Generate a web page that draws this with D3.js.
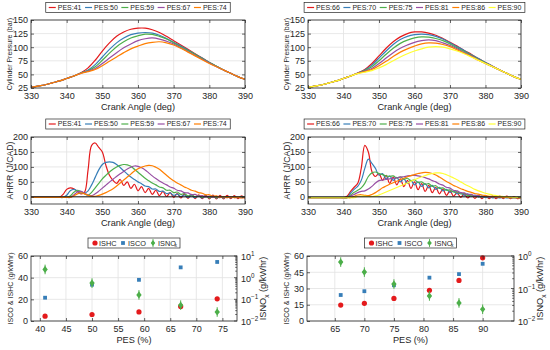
<!DOCTYPE html>
<html>
<head>
<meta charset="utf-8">
<script src="https://cdn.jsdelivr.net/npm/d3@7"></script>
<style>
body { margin: 0; background: #fff; }
svg { font-family: "Liberation Sans", Arial, Helvetica, sans-serif; }
</style>
</head>
<body>
<script>
// ---- data ----
var anglesP = [330,332,334,336,338,340,342,344,346,348,350,352,354,356,358,360,362,364,366,368,370,372,374,376,378,380,382,384,386,388,390];
var anglesA = [330,331,332,333,334,335,336,337,338,339,340,341,342,343,344,345,346,347,348,349,350,351,352,353,354,355,356,357,358,359,360,361,362,363,364,365,366,367,368,369,370,371,372,373,374,375,376,377,378,379,380,381,382,383,384,385,386,387,388,389,390];
var crankTicks = [330, 340, 350, 360, 370, 380, 390];

var namesLeft = ["PES:41", "PES:50", "PES:59", "PES:67", "PES:74"];
var namesRight = ["PES:66", "PES:70", "PES:75", "PES:81", "PES:86", "PES:90"];

// cylinder pressure (bar), every 2 deg
var p41 = [26,28.5,31,34.5,38,42.5,47,53,62,76,93,108,120,128,133,135,135,132,127,120,112,104,96,88,80,72,65,58,52,46,41];
var p50 = [26,28.5,31,34.5,38,42.5,47,52.5,58,68,82,96,108,117,123,126,127,126,122,116,109,102,95,87,80,72,65,58,52,46,41];
var p59 = [26,28.5,31,34.5,38,42.5,47,52.5,57,64,76,89,101,110,117,121,124,123.5,120,115,108,101,94,87,79,72,65,58,52,46,41];
var p67 = [26,28.5,31,34.5,38,42.5,47,52,56,61,70,80,90,99,106,112,115.5,117,115,111,106,99,92,85,78,71,64,58,52,46,41];
var p74 = [26,28.5,31,34.5,38,42.5,47,52,55,59,66,74,82,90,97,102,106.5,109,110,108,104,98,91,84,77,70,64,58,52,46,41];

var p66 = [26,28.5,31,34.5,38,42.5,47,52.5,59,70,84,98,110,119,125,128,128,126,122,116,109,102,94,87,79,72,65,58,52,46,41];
var p70 = [26,28.5,31,34.5,38,42.5,47,52.5,58,67,80,93,105,114,120,123,124,123,120,115,108,101,94,86,79,72,65,58,52,46,41];
var p75 = [26,28.5,31,34.5,38,42.5,47,52,57,64,75,87,98,107,113,117,119,118.5,116,112,106,99,92,85,78,71,64,58,52,46,41];
var p81 = [26,28.5,31,34.5,38,42.5,47,52,56,61,70,80,90,98,104,109,112,113.5,112,108,103,97,90,84,77,70,64,58,52,46,41];
var p86 = [26,28.5,31,34.5,38,42.5,47,52,55,59,66,74,83,91,97,102,106,108,107.5,105,101,95,89,83,76,70,64,58,52,46,41];
var p90 = [26,28.5,31,34.5,38,42.5,47,51.5,54,57,62,68,75,82,88,93,97,100,101,100,97,93,88,82,76,70,64,58,52,46,41];

// apparent heat release rate (J/CAD), every 1 deg
var a41 = [-2,-2,-2,-2,-2,-2,-2,-2,
  -1,8,25,30,27,18,10,15,90,172,
  180,165,150,105,72,55,45,58,38,50,
  28,42,20,34,14,28,8,22,4,18,
  1,14,-2,11,-4,9,-5,8,-6,7,
  -6,6,-7,6,-7,5,-7,5,-6,4,
  -6,3,-5];
var a50 = [-2,-2,-2,-2,-2,-2,-2,-2,-2,-2,
  5,20,25,20,12,12,20,40,65,90,
  108,115,117,115,108,98,87,76,66,58,
  50,44,36,34,26,26,18,19,11,13,
  5,9,1,6,-2,4,-3,3,-4,2,
  -4,2,-4,1,-4,1,-3,0,-3,0,
  -3];
var a59 = [-2,-2,-2,-2,-2,-2,-2,-2,-2,-2,
  -2,3,15,22,18,10,6,15,30,45,
  60,72,83,92,100,105,108,107,102,92,
  82,72,62,54,46,40,33,30,22,22,
  14,16,8,11,3,7,0,4,-2,2,
  -3,1,-3,1,-3,0,-3,0,-3,0,
  -2];
var a67 = [-2,-2,-2,-2,-2,-2,-2,-2,-2,-2,
  -2,-2,6,16,18,12,6,4,10,19,
  29,39,49,59,68,77,85,93,99,103,
  102,97,90,80,70,61,53,46,40,33,
  29,22,20,14,13,7,8,2,4,-1,
  2,-2,1,-3,0,-3,0,-3,-1,-3,
  -1];
var a74 = [-2,-2,-2,-2,-2,-2,-2,-2,-2,-2,
  -2,-2,3,10,13,10,5,2,2,5,
  9,14,20,27,36,46,56,66,76,86,
  94,99,103,105,104,99,92,82,72,62,
  54,46,40,33,28,22,19,14,12,7,
  7,2,3,-2,1,-3,0,-3,-1,-4,
  -2];

var a66 = [-3,-3,-3,-3,-3,-3,-3,-3,-3,-3,
  -3,2,18,32,45,95,172,150,85,68,
  78,55,72,45,66,40,60,34,55,28,
  50,24,44,18,38,14,32,10,26,5,
  20,2,14,-2,10,-4,7,-5,5,-6,
  4,-6,3,-6,2,-6,2,-6,1,-6,
  -3];
var a70 = [-3,-3,-3,-3,-3,-3,-3,-3,-3,-3,
  -3,-3,12,25,35,55,95,126,112,95,
  72,78,60,70,55,65,50,60,45,55,
  40,50,35,44,30,38,25,32,20,25,
  15,19,10,14,5,10,2,6,-1,3,
  -3,1,-4,0,-4,0,-4,-1,-4,-1,
  -3];
var a75 = [-3,-3,-3,-3,-3,-3,-3,-3,-3,-3,
  -3,-3,6,15,22,30,45,68,80,83,
  78,74,70,68,70,63,67,59,62,54,
  57,48,50,42,44,35,37,28,30,22,
  23,16,17,10,11,5,6,1,3,-2,
  1,-3,0,-3,-1,-3,-1,-3,-2,-3,
  -2];
var a81 = [-3,-3,-3,-3,-3,-3,-3,-3,-3,-3,
  -3,-3,3,8,14,18,20,26,35,46,
  54,56,58,60,62,63,66,67,70,71,
  72,70,68,64,60,54,50,43,39,32,
  29,22,20,14,13,8,8,3,4,0,
  1,-2,0,-3,-1,-3,-1,-3,-2,-3,
  -2];
var a86 = [-3,-3,-3,-3,-3,-3,-3,-3,-3,-3,
  -3,-3,-3,2,6,7,5,4,8,14,
  22,30,36,42,47,52,57,62,67,71,
  74,78,80,82,81,78,73,66,59,51,
  45,38,33,27,23,18,15,11,9,6,
  4,2,1,0,-1,-2,-2,-3,-3,-3,
  -3];
var a90 = [-3,-3,-3,-3,-3,-3,-3,-3,-3,-3,
  -3,-3,-3,-3,1,2,2,1,1,3,
  6,11,16,21,26,31,36,41,46,52,
  57,62,67,71,75,78,80,80,78,74,
  69,63,57,50,43,37,31,25,20,16,
  12,9,6,4,2,1,0,-1,-2,-2,
  -3];

// emissions
var pesLeft = [41, 50, 59, 67, 74];
var ishcLeft = [4.5, 6, 8.4, 13.5, 20.5];
var iscoLeft = [21.5, 33.5, 38, 49.5, 54.5];
var isnoxLeft = [2.4, 0.56, 0.16, 0.054, 0.026];

var pesRight = [66, 70, 75, 81, 86, 90];
var ishcRight = [14.7, 16.3, 20.8, 28.3, 37.5, 58.3];
var iscoRight = [24, 27.5, 33, 40, 43.3, 52.8];
var isnoxRight = [0.65, 0.32, 0.137, 0.059, 0.036, 0.023];

var emisNames = ["ISHC", "ISCO", "ISNO"];

// ---- layout / style ----
var width = 550, height = 350;
var axisCol = "#262626", gridCol = "#e2e2e2";
var colors = ["#e41a1c", "#377eb8", "#4daf4a", "#984ea3", "#ff7f00", "#ffff33"];
var clipCount = 0;

var svg = d3.select("body").append("svg")
    .attr("width", width)
    .attr("height", height);

function drawGrid(box, x, y, xTicks, yTicks) {
    var g = svg.append("g").attr("stroke", gridCol).attr("stroke-width", 0.8);
    g.selectAll(".vg").data(xTicks).enter().append("line")
        .attr("x1", function (d) { return x(d); }).attr("x2", function (d) { return x(d); })
        .attr("y1", box.top).attr("y2", box.bottom);
    g.selectAll(".hg").data(yTicks).enter().append("line")
        .attr("x1", box.left).attr("x2", box.right)
        .attr("y1", function (d) { return y(d); }).attr("y2", function (d) { return y(d); });
}

function styleAxis(sel) {
    sel.attr("font-size", 9).attr("font-family", null);
    sel.select(".domain").remove();
    sel.selectAll("line").attr("stroke", axisCol).attr("stroke-width", 0.7);
    sel.selectAll("text").attr("fill", axisCol);
}

function drawFrame(box, x, y, xTicks, yTicks, mirrorY) {
    svg.append("g").attr("transform", "translate(0," + box.bottom + ")")
        .call(d3.axisBottom(x).tickValues(xTicks).tickSizeInner(-3).tickSizeOuter(0).tickPadding(5))
        .call(styleAxis);
    svg.append("g").attr("transform", "translate(0," + box.top + ")")
        .call(d3.axisTop(x).tickValues(xTicks).tickSizeInner(-3).tickSizeOuter(0).tickFormat(""))
        .call(styleAxis);
    svg.append("g").attr("transform", "translate(" + box.left + ",0)")
        .call(d3.axisLeft(y).tickValues(yTicks).tickSizeInner(-3).tickSizeOuter(0).tickPadding(3))
        .call(styleAxis);
    if (mirrorY) {
        svg.append("g").attr("transform", "translate(" + box.right + ",0)")
            .call(d3.axisRight(y).tickValues(yTicks).tickSizeInner(-3).tickSizeOuter(0).tickFormat(""))
            .call(styleAxis);
    }
    svg.append("rect")
        .attr("x", box.left).attr("y", box.top)
        .attr("width", box.right - box.left).attr("height", box.bottom - box.top)
        .attr("fill", "none").attr("stroke", axisCol).attr("stroke-width", 0.8);
}

function xTitle(box, label, yPos) {
    svg.append("text")
        .attr("x", (box.left + box.right) / 2).attr("y", yPos)
        .attr("text-anchor", "middle").attr("font-size", 9.2).attr("fill", axisCol)
        .text(label);
}

function yTitle(xPos, yPos, label, size) {
    svg.append("text")
        .attr("transform", "translate(" + xPos + "," + yPos + ") rotate(-90)")
        .attr("text-anchor", "middle").attr("dy", "0.35em")
        .attr("font-size", size).attr("fill", axisCol)
        .text(label);
}

function lineLegend(box, top, names) {
    var entryW = 36.3, w = names.length * entryW + 3;
    var left = (box.left + box.right) / 2 - w / 2;
    var g = svg.append("g").attr("transform", "translate(" + left + "," + top + ")");
    g.append("rect").attr("width", w).attr("height", 10)
        .attr("fill", "#fff").attr("stroke", axisCol).attr("stroke-width", 0.7);
    var e = g.selectAll(".ent").data(names).enter().append("g")
        .attr("transform", function (d, i) { return "translate(" + (2 + i * entryW) + ",5)"; });
    e.append("line").attr("x1", 1).attr("x2", 8)
        .attr("stroke", function (d, i) { return colors[i]; }).attr("stroke-width", 1.2);
    e.append("text").attr("x", 10).attr("dy", "0.35em")
        .attr("font-size", 7).attr("fill", axisCol)
        .text(function (d) { return d; });
}

function linePanel(box, angles, series, names, yDomain, yTicks, yLabel, labelSize, legendTop, zeroLine) {
    var x = d3.scaleLinear().domain([330, 390]).range([box.left, box.right]);
    var y = d3.scaleLinear().domain(yDomain).range([box.bottom, box.top]);

    drawGrid(box, x, y, crankTicks, yTicks);

    var clipId = "clip" + (clipCount++);
    svg.append("clipPath").attr("id", clipId).append("rect")
        .attr("x", box.left).attr("y", box.top)
        .attr("width", box.right - box.left).attr("height", box.bottom - box.top);

    var line = d3.line()
        .x(function (d, i) { return x(angles[i]); })
        .y(function (d) { return y(d); })
        .curve(d3.curveCatmullRom);

    svg.append("g").attr("clip-path", "url(#" + clipId + ")")
        .selectAll("path").data(series).enter().append("path")
        .attr("d", line)
        .attr("fill", "none")
        .attr("stroke", function (d, i) { return colors[i]; })
        .attr("stroke-width", 1.2);

    if (zeroLine) {
        svg.append("line")
            .attr("x1", box.left).attr("x2", box.right)
            .attr("y1", y(0)).attr("y2", y(0))
            .attr("stroke", "#111").attr("stroke-width", 1);
    }

    drawFrame(box, x, y, crankTicks, yTicks, true);
    xTitle(box, "Crank Angle (deg)", box.bottom + 22);
    yTitle(box.left - 21, (box.top + box.bottom) / 2, yLabel, labelSize);
    lineLegend(box, legendTop, names);
}

function diamond(sel) {
    sel.append("path").attr("d", "M0,-3.6L2.6,0L0,3.6L-2.6,0Z").attr("fill", colors[2]);
    sel.append("line").attr("y1", -4.8).attr("y2", 4.8).attr("stroke", colors[2]).attr("stroke-width", 1);
    sel.append("line").attr("x1", -2.2).attr("x2", 2.2).attr("stroke", colors[2]).attr("stroke-width", 0.8);
}

function scatterPanel(box, pes, ishc, isco, isnox, xDomain, xTicks, yTicks, logDomain, legendTop) {
    var x = d3.scaleLinear().domain(xDomain).range([box.left, box.right]);
    var y = d3.scaleLinear().domain([0, 60]).range([box.bottom, box.top]);
    var yLog = d3.scaleLog().domain(logDomain).range([box.bottom, box.top]);

    drawGrid(box, x, y, xTicks, yTicks);

    svg.append("g").selectAll("circle").data(ishc).enter().append("circle")
        .attr("cx", function (d, i) { return x(pes[i]); })
        .attr("cy", function (d) { return y(d); })
        .attr("r", 2.6).attr("fill", colors[0]);
    svg.append("g").selectAll("rect").data(isco).enter().append("rect")
        .attr("x", function (d, i) { return x(pes[i]) - 1.9; })
        .attr("y", function (d) { return y(d) - 1.9; })
        .attr("width", 3.8).attr("height", 3.8).attr("fill", colors[1]);
    svg.append("g").selectAll("g").data(isnox).enter().append("g")
        .attr("transform", function (d, i) { return "translate(" + x(pes[i]) + "," + yLog(d) + ")"; })
        .each(function () { diamond(d3.select(this)); });

    drawFrame(box, x, y, xTicks, yTicks, false);

    // right log axis
    var major = yLog.ticks().filter(function (d) { return Math.abs(Math.log10(d) - Math.round(Math.log10(d))) < 1e-6; });
    var minor = yLog.ticks();
    svg.append("g").selectAll("line").data(minor).enter().append("line")
        .attr("x1", box.right).attr("x2", function (d) { return major.indexOf(d) >= 0 ? box.right - 3 : box.right - 1.8; })
        .attr("y1", function (d) { return yLog(d); }).attr("y2", function (d) { return yLog(d); })
        .attr("stroke", axisCol).attr("stroke-width", 0.7);
    var lab = svg.append("g").selectAll("text").data(major).enter().append("text")
        .attr("x", box.right + 4).attr("y", function (d) { return yLog(d) + 4; })
        .attr("font-size", 9).attr("fill", axisCol);
    lab.append("tspan").text("10");
    lab.append("tspan").attr("dy", -4).attr("font-size", 6.3)
        .text(function (d) { return String(Math.round(Math.log10(d))).replace("-", "\u2212"); });

    xTitle(box, "PES (%)", box.bottom + 22);
    yTitle(box.left - 21, (box.top + box.bottom) / 2, "ISCO & ISHC (g/kWhr)", 7.1);

    var rl = svg.append("text")
        .attr("transform", "translate(" + (box.right + 26) + "," + ((box.top + box.bottom) / 2) + ") rotate(-90)")
        .attr("text-anchor", "middle").attr("dy", "0.35em")
        .attr("font-size", 9.2).attr("fill", axisCol);
    rl.append("tspan").text("ISNO");
    rl.append("tspan").attr("dy", 2.5).attr("font-size", 6.5).text("x");
    rl.append("tspan").attr("dy", -2.5).text(" (g/kWhr)");

    // legend
    var lw = 92, left = (box.left + box.right) / 2 - lw / 2;
    var g = svg.append("g").attr("transform", "translate(" + left + "," + legendTop + ")");
    g.append("rect").attr("width", lw).attr("height", 10)
        .attr("fill", "#fff").attr("stroke", axisCol).attr("stroke-width", 0.7);
    g.append("circle").attr("cx", 7).attr("cy", 5).attr("r", 2.6).attr("fill", colors[0]);
    g.append("rect").attr("x", 33.1).attr("y", 3.1).attr("width", 3.8).attr("height", 3.8).attr("fill", colors[1]);
    diamond(g.append("g").attr("transform", "translate(65,5) scale(0.85)"));
    var tx = [11, 40, 70];
    g.selectAll(".lt").data(emisNames).enter().append("text")
        .attr("x", function (d, i) { return tx[i]; }).attr("y", 5).attr("dy", "0.35em")
        .attr("font-size", 7.3).attr("fill", axisCol)
        .text(function (d) { return d; });
    g.append("text").attr("x", 89).attr("y", 8.5).attr("font-size", 5).attr("fill", axisCol)
        .attr("text-anchor", "end").text("x");
}

// ---- panels ----
var boxTL = { left: 31, right: 245, top: 20, bottom: 88 };
var boxTR = { left: 308, right: 521, top: 20, bottom: 88 };
var boxML = { left: 31, right: 245, top: 137, bottom: 204 };
var boxMR = { left: 308, right: 521, top: 137, bottom: 204 };
var boxBL = { left: 31, right: 237, top: 256, bottom: 321 };
var boxBR = { left: 307, right: 514, top: 256, bottom: 321 };

linePanel(boxTL, anglesP, [p41, p50, p59, p67, p74], namesLeft,
    [25, 150], [25, 50, 75, 100, 125, 150], "Cylinder Pressure (bar)", 7, 2.5, false);
linePanel(boxTR, anglesP, [p66, p70, p75, p81, p86, p90], namesRight,
    [25, 150], [25, 50, 75, 100, 125, 150], "Cylinder Pressure (bar)", 7, 2.5, false);
linePanel(boxML, anglesA, [a41, a50, a59, a67, a74], namesLeft,
    [-24, 200], [0, 50, 100, 150, 200], "AHRR (J/CAD)", 8.7, 119, true);
linePanel(boxMR, anglesA, [a66, a70, a75, a81, a86, a90], namesRight,
    [-24, 200], [0, 50, 100, 150, 200], "AHRR (J/CAD)", 8.7, 119, true);

scatterPanel(boxBL, pesLeft, ishcLeft, iscoLeft, isnoxLeft,
    [38.3, 77.8], [40, 45, 50, 55, 60, 65, 70, 75], [0, 20, 40, 60], [0.01, 10], 238);
scatterPanel(boxBR, pesRight, ishcRight, iscoRight, isnoxRight,
    [60.3, 95.3], [65, 70, 75, 80, 85, 90], [0, 15, 30, 45, 60], [0.01, 1], 238);
</script>
</body>
</html>
